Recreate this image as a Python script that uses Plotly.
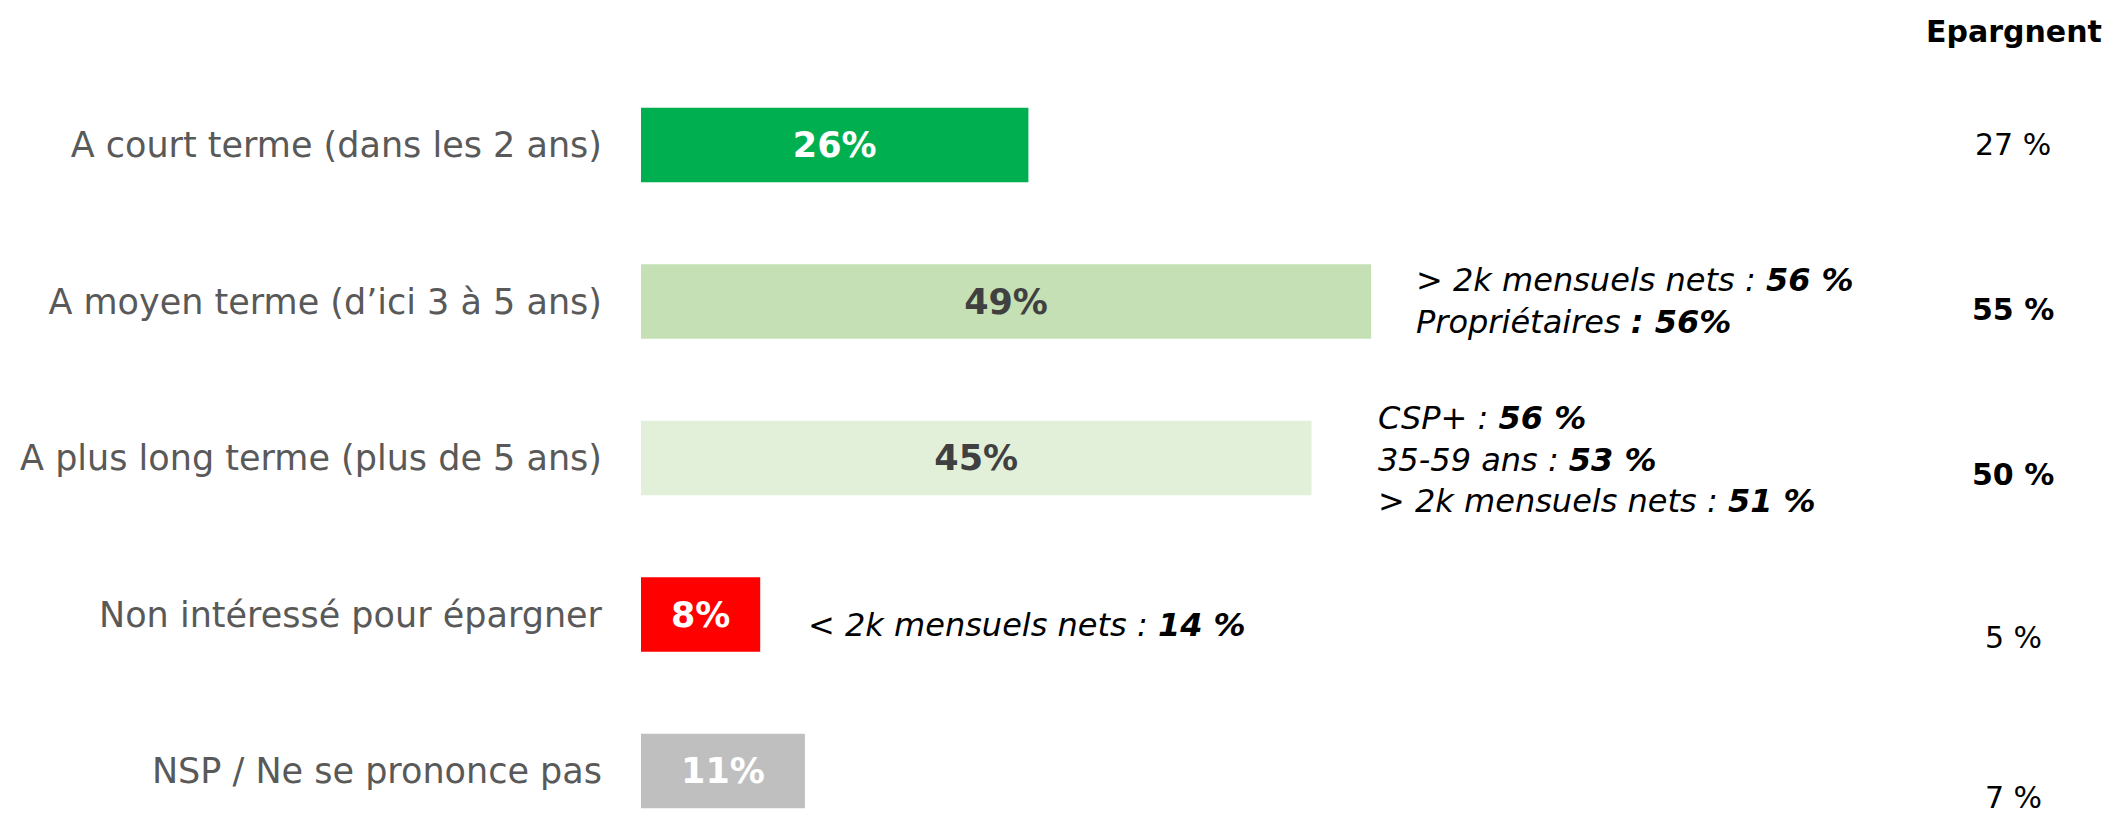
import plotly.graph_objects as go

categories = [
    "A court terme (dans les 2 ans)",
    "A moyen terme (d’ici 3 à 5 ans)",
    "A plus long terme (plus de 5 ans)",
    "Non intéressé pour épargner",
    "NSP / Ne se prononce pas",
]
values = [26, 49, 45, 8, 11]
bar_colors = ["#00B050", "#C5E0B4", "#E2F0D9", "#FF0000", "#BFBFBF"]
label_colors = ["#FFFFFF", "#404040", "#404040", "#FFFFFF", "#FFFFFF"]
epargnent = ["27 %", "55 %", "50 %", "5 %", "7 %"]
epargnent_bold = [False, True, True, False, False]
details = [
    None,
    ["> 2k mensuels nets : <b>56 %</b>", "Propriétaires <b>: 56%</b>"],
    ["CSP+ : <b>56 %</b>", "35-59 ans : <b>53 %</b>", "> 2k mensuels nets : <b>51 %</b>"],
    ["< 2k mensuels nets : <b>14 %</b>"],
    None,
]

W, H = 2116, 816
FONT = "DejaVu Sans"
X0 = 641          # pixel of 0%
PX_PER_PCT = 14.9
Y0 = 145          # pixel center of first bar
STEP = 156.5

def xdata(px):
    return (px - X0) / PX_PER_PCT

def ydata(py):
    return (py - Y0) / STEP

ys = list(range(len(categories)))

fig = go.Figure()
fig.add_trace(go.Bar(
    y=ys, x=values, orientation="h",
    marker=dict(color=bar_colors, line=dict(width=0)),
    width=0.475,
    text=[f"{v}%" for v in values],
    textposition="inside", insidetextanchor="middle",
    textfont=dict(family=FONT, size=35, color=label_colors, weight="bold"),
    constraintext="none",
    hoverinfo="skip",
))

ann = []
ann.append(dict(x=xdata(2104), y=ydata(31), xref="x", yref="y",
                text="<b>Epargnent</b>", showarrow=False, xanchor="right", yanchor="middle",
                font=dict(family=FONT, size=30, color="#000000")))
ep_px = [144, 309, 474, 637, 797]
for i, (t, b) in enumerate(zip(epargnent, epargnent_bold)):
    ann.append(dict(x=xdata(2013), y=ydata(ep_px[i]), xref="x", yref="y",
                    text=f"<b>{t}</b>" if b else t, showarrow=False,
                    xanchor="center", yanchor="middle",
                    font=dict(family=FONT, size=30, color="#000000")))
det_pos = {1: (1414, 301), 2: (1376, 459), 3: (806, 625)}
for i, lines in enumerate(details):
    if not lines:
        continue
    px, py = det_pos[i]
    ann.append(dict(x=xdata(px), y=ydata(py), xref="x", yref="y",
                    text="<i>" + "<br>".join(lines) + "</i>", showarrow=False,
                    xanchor="left", yanchor="middle", align="left",
                    font=dict(family=FONT, size=32, color="#000000")))

fig.update_layout(
    width=W, height=H,
    margin=dict(l=X0, r=0, t=0, b=0),
    paper_bgcolor="white", plot_bgcolor="white",
    showlegend=False,
    annotations=ann,
    xaxis=dict(range=[0, xdata(W)], visible=False, fixedrange=True),
    yaxis=dict(range=[ydata(H), ydata(0)],
               tickvals=ys, ticktext=categories,
               tickfont=dict(family=FONT, size=35, color="#595959"),
               showgrid=False, zeroline=False, showline=False,
               ticks="", ticklabelstandoff=38, fixedrange=True),
)

fig.write_html("out.html", config={"displayModeBar": False},
               post_script="document.body.style.margin='0';document.body.style.overflow='hidden';")
